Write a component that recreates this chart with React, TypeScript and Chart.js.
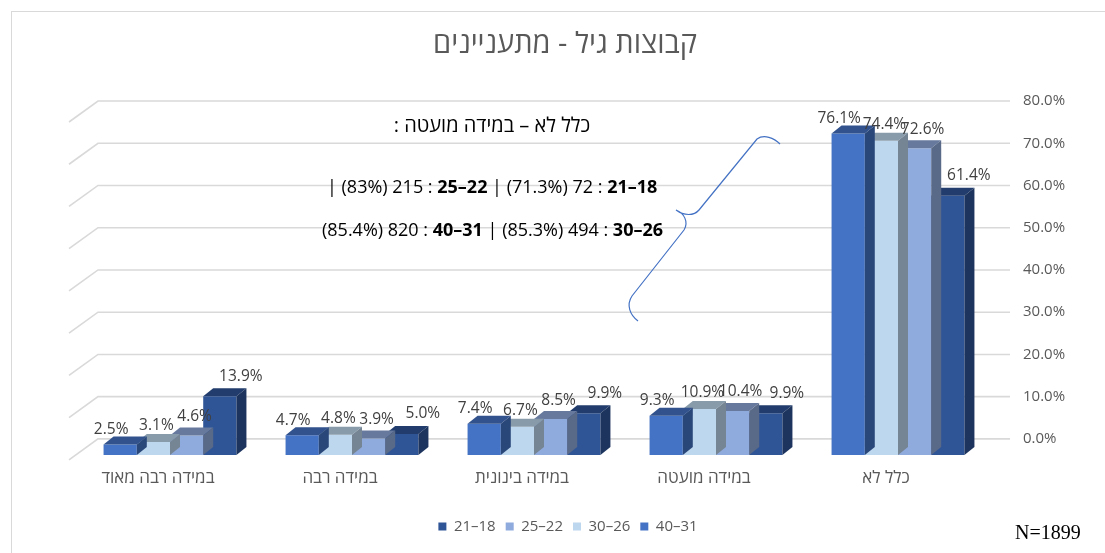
import React, { useEffect, useRef } from "react";
import { Chart, registerables } from "chart.js";

Chart.register(...registerables);

// ---------- DATA ----------
const categories = ["במידה רבה מאוד", "במידה רבה", "במידה בינונית", "במידה מועטה", "כלל לא"];
const seriesLabels = ["40–31", "30–26", "25–22", "21–18"];
const s40_31 = [2.5, 4.7, 7.4, 9.3, 76.1];
const s30_26 = [3.1, 4.8, 6.7, 10.9, 74.4];
const s25_22 = [4.6, 3.9, 8.5, 10.4, 72.6];
const s21_18 = [13.9, 5.0, 9.9, 9.9, 61.4];
const seriesColors = ["#4472C4", "#BDD7EE", "#8FAADC", "#2F5597"];
const yTicks = [0, 10, 20, 30, 40, 50, 60, 70, 80];
const titleText = "קבוצות גיל - מתעניינים";
const noteTitle = "כלל לא – במידה מועטה :";
const noteLine1: [string, boolean][] = [["| (83%) 215 : ", false], ["25–22", true], [" | (71.3%) 72 : ", false], ["21–18", true]];
const noteLine2: [string, boolean][] = [["(85.4%) 820 : ", false], ["40–31", true], [" | (85.3%) 494 : ", false], ["30–26", true]];
const sampleNote = "N=1899";

// ---------- STYLE ----------
const FONT = "'Open Sans', 'Liberation Sans', 'DejaVu Sans', sans-serif";
const DX = 10; // 3D depth x
const DY = 8; // 3D depth y
const WALL_SHIFT = 3.81; // back wall offset in value units
const LABEL_DX = [-14, -2, 3, 16];
const LABEL_DY = [15, 16, 19, 20];

function shade(hex: string, f: number) {
  const n = parseInt(hex.slice(1), 16);
  const r = Math.round(((n >> 16) & 255) * f);
  const g = Math.round(((n >> 8) & 255) * f);
  const b = Math.round((n & 255) * f);
  return `rgb(${r},${g},${b})`;
}

const bgPlugin = {
  id: "bgDecor",
  afterLayout(chart: any) {
    if (chart.legend) chart.legend.left -= 32;
  },
  beforeDraw(chart: any) {
    const { ctx } = chart;
    ctx.save();
    ctx.fillStyle = "#ffffff";
    ctx.fillRect(0, 0, chart.width, chart.height);
    ctx.strokeStyle = "#d9d9d9";
    ctx.lineWidth = 1;
    ctx.strokeRect(11.5, 11.5, chart.width + 20, chart.height + 20);
    // title
    ctx.fillStyle = "#595959";
    ctx.font = `29px ${FONT}`;
    ctx.textAlign = "center";
    ctx.textBaseline = "middle";
    ctx.direction = "rtl";
    ctx.fillText(titleText, 565, 45);
    ctx.restore();
  },
};

const gridPlugin = {
  id: "grid3d",
  beforeDatasetsDraw(chart: any) {
    const { ctx, chartArea } = chart;
    const ys = chart.scales.y;
    ctx.save();
    ctx.strokeStyle = "#d9d9d9";
    ctx.lineWidth = 1.6;
    for (const v of yTicks) {
      const y = ys.getPixelForValue(v);
      ctx.beginPath();
      ctx.moveTo(chartArea.left - 10, y + 21);
      ctx.lineTo(chartArea.left + 19, y);
      ctx.lineTo(chartArea.right + 21, y);
      ctx.stroke();
    }
    ctx.restore();
  },
};

const barFacesPlugin = {
  id: "barFaces",
  afterDatasetDraw(chart: any, args: any) {
    const meta = args.meta;
    if (meta.type !== "bar") return;
    const color = seriesColors[args.index];
    const { ctx } = chart;
    ctx.save();
    meta.data.forEach((el: any) => {
      const { x, y, base, width } = el.getProps(["x", "y", "base", "width"], true);
      const x1 = x - width / 2;
      const x2 = x + width / 2;
      ctx.fillStyle = shade(color, 0.72);
      ctx.beginPath();
      ctx.moveTo(x1, y);
      ctx.lineTo(x2, y);
      ctx.lineTo(x2 + DX, y - DY);
      ctx.lineTo(x1 + DX, y - DY);
      ctx.closePath();
      ctx.fill();
      ctx.fillStyle = shade(color, 0.62);
      ctx.beginPath();
      ctx.moveTo(x2, y);
      ctx.lineTo(x2 + DX, y - DY);
      ctx.lineTo(x2 + DX, base - DY);
      ctx.lineTo(x2, base);
      ctx.closePath();
      ctx.fill();
    });
    ctx.restore();
  },
  afterDatasetsDraw(chart: any) {
    const { ctx } = chart;
    ctx.save();
    ctx.font = `15.5px ${FONT}`;
    ctx.fillStyle = "#404040";
    ctx.textAlign = "center";
    ctx.textBaseline = "middle";
    chart.data.datasets.forEach((ds: any, i: number) => {
      const meta = chart.getDatasetMeta(i);
      meta.data.forEach((el: any, j: number) => {
        const v = ds.data[j];
        ctx.fillText(v.toFixed(1) + "%", el.x + DX / 2 + LABEL_DX[i], el.y - LABEL_DY[i]);
      });
    });
    ctx.restore();
  },
};

const notePlugin = {
  id: "notes",
  afterDraw(chart: any) {
    const { ctx } = chart;
    ctx.save();
    ctx.fillStyle = "#000000";
    ctx.textBaseline = "middle";
    ctx.font = `20px ${FONT}`;
    ctx.textAlign = "center";
    ctx.direction = "rtl";
    ctx.fillText(noteTitle, 492, 126);
    ctx.direction = "ltr";
    ctx.textAlign = "left";
    const drawLine = (parts: [string, boolean][], x0: number, y: number) => {
      let x = x0;
      for (const [t, b] of parts) {
        ctx.font = `${b ? "bold " : ""}18px ${FONT}`;
        ctx.fillText(t, x, y);
        x += ctx.measureText(t).width;
      }
    };
    drawLine(noteLine1, 327, 188);
    drawLine(noteLine2, 322, 231);
    // brace
    ctx.strokeStyle = "#4472C4";
    ctx.lineWidth = 1.2;
    ctx.beginPath();
    ctx.moveTo(780, 144);
    ctx.bezierCurveTo(774, 138, 764, 134, 757, 139);
    ctx.lineTo(699, 210);
    ctx.bezierCurveTo(694, 216, 684, 216, 676, 210);
    ctx.moveTo(676, 210);
    ctx.bezierCurveTo(684, 213, 689, 222, 684, 230);
    ctx.lineTo(632, 296);
    ctx.bezierCurveTo(626, 305, 630, 315, 638, 321);
    ctx.stroke();
    // N
    ctx.font = `20px 'Liberation Serif', 'DejaVu Serif', serif`;
    ctx.fillStyle = "#000000";
    ctx.textAlign = "left";
    ctx.fillText(sampleNote, 1015, 534);
    ctx.restore();
  },
};

export default function App() {
  const ref = useRef<HTMLCanvasElement | null>(null);
  useEffect(() => {
    if (!ref.current) return;
    const seriesData = [s40_31, s30_26, s25_22, s21_18];
    const chart = new Chart(ref.current, {
      type: "bar",
      data: {
        labels: categories,
        datasets: seriesLabels.map((l, i) => ({
          label: l,
          data: seriesData[i],
          backgroundColor: seriesColors[i],
          borderWidth: 0,
          yAxisID: "yb",
          categoryPercentage: 0.73,
          barPercentage: 1,
        })),
      },
      options: {
        responsive: false,
        animation: false,
        devicePixelRatio: 1,
        layout: { padding: { left: 79, right: 16, top: 101, bottom: 9 } },
        plugins: {
          title: { display: false },
          tooltip: { enabled: false },
          legend: {
            position: "bottom",
            reverse: true,
            labels: {
              boxWidth: 8,
              boxHeight: 8,
              padding: 10,
              color: "#595959",
              font: { family: FONT, size: 15 },
            },
          },
        },
        scales: {
          x: {
            grid: { display: false, drawTicks: false },
            border: { display: false },
            ticks: {
              color: "#595959",
              font: { family: FONT, size: 17 },
              padding: 13,
              labelOffset: -12,
              maxRotation: 0,
            },
            afterFit: (s: any) => {
              s.height = 54;
            },
          },
          y: {
            position: "right",
            min: -WALL_SHIFT,
            max: 80,
            grid: { display: false, drawTicks: false },
            border: { display: false },
            afterBuildTicks: (s: any) => {
              s.ticks = yTicks.map((v) => ({ value: v }));
            },
            ticks: {
              color: "#595959",
              font: { family: FONT, size: 15 },
              padding: 34,
              callback: (v: any) => Number(v).toFixed(1) + "%",
            },
            afterFit: (s: any) => {
              s.width = 100;
            },
          },
          yb: {
            display: false,
            min: 0,
            max: 80 + WALL_SHIFT,
          },
        },
      },
      plugins: [bgPlugin, gridPlugin, barFacesPlugin, notePlugin],
    } as any);
    return () => chart.destroy();
  }, []);
  return (
    <div style={{ position: "fixed", left: 0, top: 0, width: 1105, height: 553, background: "#fff" }}>
      <canvas ref={ref} width={1105} height={553} style={{ display: "block" }} />
    </div>
  );
}
